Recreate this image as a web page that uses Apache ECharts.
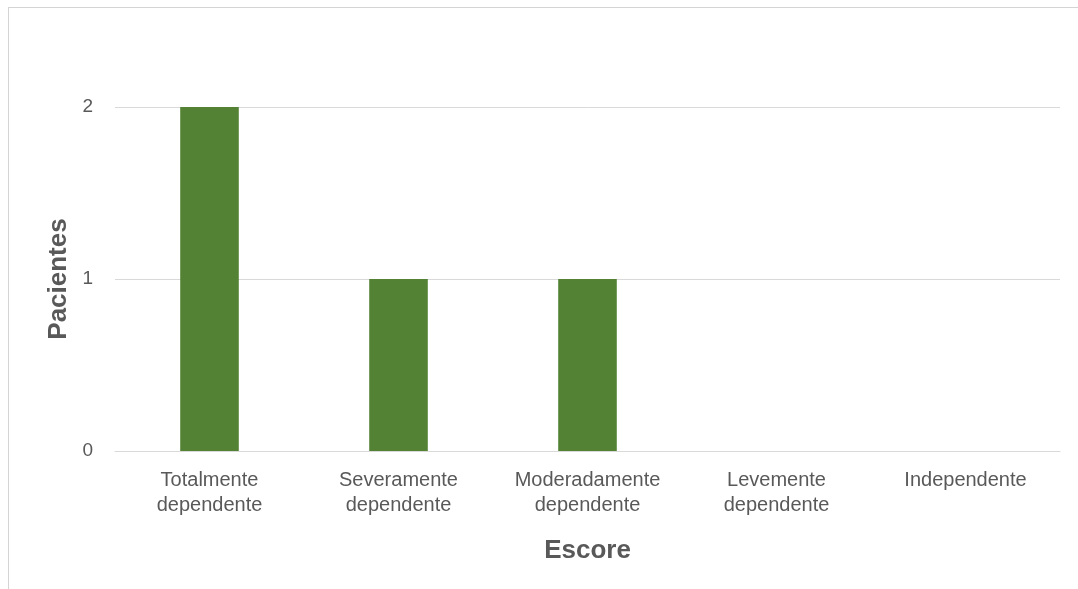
<!DOCTYPE html>
<html>
<head>
<meta charset="utf-8">
<script src="https://cdn.jsdelivr.net/npm/echarts@6/dist/echarts.min.js"></script>
<style>
  html, body { margin: 0; padding: 0; background: #ffffff; overflow: hidden; }
  #chart { position: absolute; left: 0; top: 0; width: 1078px; height: 589px; }
  #frame {
    position: absolute; left: 8px; top: 7px; width: 1100px; height: 620px;
    border: 1px solid #d4d4d4; box-sizing: border-box; pointer-events: none;
  }
</style>
</head>
<body>
<div id="chart"></div>
<div id="frame"></div>
<script>
// Patient count per dependency score
const categories = [
  'Totalmente\ndependente',
  'Severamente\ndependente',
  'Moderadamente\ndependente',
  'Levemente\ndependente',
  'Independente'
];
const pacientes = [2, 1, 1, 0, 0];
const yTicks = [0, 1, 2];

const labelColor = '#595959';
const fontFamily = '"Liberation Sans", Arial, sans-serif';

const chart = echarts.init(document.getElementById('chart'));
chart.setOption({
  animation: false,
  backgroundColor: '#ffffff',
  grid: { left: 115, right: 18, top: 107, bottom: 138, containLabel: false },
  xAxis: {
    type: 'category',
    data: categories,
    name: 'Escore',
    nameLocation: 'middle',
    nameGap: 100,
    nameTextStyle: {
      color: labelColor, fontSize: 26, fontWeight: 'bold',
      fontFamily: fontFamily, verticalAlign: 'middle'
    },
    axisLine: { show: true, lineStyle: { color: '#d9d9d9', width: 1 } },
    axisTick: { show: false },
    axisLabel: {
      color: labelColor, fontSize: 20, lineHeight: 25,
      fontFamily: fontFamily, margin: 17, interval: 0
    }
  },
  yAxis: {
    type: 'value',
    min: yTicks[0],
    max: yTicks[yTicks.length - 1],
    interval: 1,
    name: 'Pacientes',
    nameLocation: 'middle',
    nameGap: 55,
    nameRotate: 90,
    nameTextStyle: {
      color: labelColor, fontSize: 26, fontWeight: 'bold',
      fontFamily: fontFamily, verticalAlign: 'middle'
    },
    axisLine: { show: false },
    axisTick: { show: false },
    axisLabel: {
      color: labelColor, fontSize: 19, fontFamily: fontFamily,
      margin: 22, padding: [5, 0, 0, 0]
    },
    splitLine: { show: true, lineStyle: { color: '#d9d9d9', width: 1 } }
  },
  series: [{
    type: 'bar',
    data: pacientes,
    barWidth: '31%',
    itemStyle: { color: '#548235' }
  }]
});
</script>
</body>
</html>
